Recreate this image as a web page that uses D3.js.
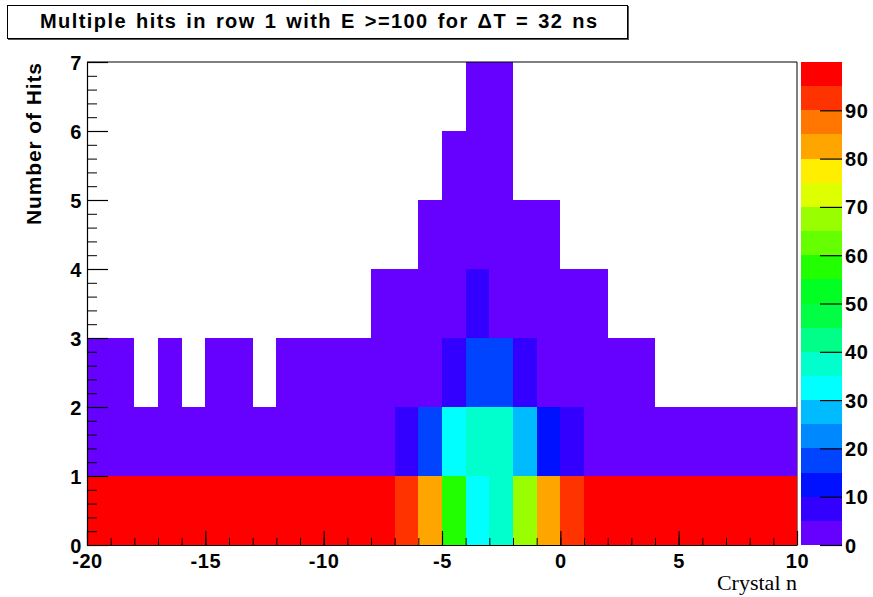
<!DOCTYPE html>
<html>
<head>
<meta charset="utf-8">
<script src="https://cdn.jsdelivr.net/npm/d3@7"></script>
<style>
  body { margin: 0; background: #fff; }
  svg text { font-family: "Liberation Sans", Arial, sans-serif; font-weight: bold; }
</style>
</head>
<body>
<div id="chart"></div>
<script>
// bin low edges along Crystal n
var crystalBins = [-20, -19, -18, -17, -16, -15, -14, -13, -12, -11, -10, -9, -8, -7, -6,
                   -5, -4, -3, -2, -1, 0, 1, 2, 3, 4, 5, 6, 7, 8, 9];
// number-of-hits bin low edges
var hitBins = [0, 1, 2, 3, 4, 5, 6];

// counts per hit row, one entry per crystal bin (0 = empty)
var hits0 = [98, 99, 97, 98, 99, 98, 97, 99, 98, 97, 99, 98, 97, 92, 82,
             57, 33, 38, 67, 82, 92, 98, 99, 97, 98, 99, 97, 98, 99, 98];
var hits1 = [2, 3, 1, 2, 3, 2, 1, 3, 2, 2, 3, 4, 3, 7, 17,
             32, 37, 38, 27, 12, 8, 3, 4, 2, 3, 2, 1, 2, 1, 2];
var hits2 = [1, 2, 0, 1, 0, 2, 1, 0, 1, 2, 1, 2, 3, 4, 4,
             7, 17, 16, 7, 4, 3, 3, 2, 1, 0, 0, 0, 0, 0, 0];
var hits3 = [0, 0, 0, 0, 0, 0, 0, 0, 0, 0, 0, 0, 1, 2, 3,
             4, 6, 4, 3, 2, 1, 1, 0, 0, 0, 0, 0, 0, 0, 0];
var hits4 = [0, 0, 0, 0, 0, 0, 0, 0, 0, 0, 0, 0, 0, 0, 1,
             2, 3, 2, 2, 1, 0, 0, 0, 0, 0, 0, 0, 0, 0, 0];
var hits5 = [0, 0, 0, 0, 0, 0, 0, 0, 0, 0, 0, 0, 0, 0, 0,
             1, 2, 1, 0, 0, 0, 0, 0, 0, 0, 0, 0, 0, 0, 0];
var hits6 = [0, 0, 0, 0, 0, 0, 0, 0, 0, 0, 0, 0, 0, 0, 0,
             0, 1, 1, 0, 0, 0, 0, 0, 0, 0, 0, 0, 0, 0, 0];

// colour contours (20 levels, 0..100)
var zLevels = [0, 5, 10, 15, 20, 25, 30, 35, 40, 45, 50, 55, 60, 65, 70, 75, 80, 85, 90, 95, 100];
var paletteColors = ["#6600ff", "#3300ff", "#0011ff", "#0044ff", "#0088ff", "#00bbff", "#00ffff",
                     "#00ffcc", "#00ff88", "#00ff44", "#00ff22", "#22ff00", "#66ff00", "#99ff00",
                     "#ddff00", "#ffee00", "#ffa500", "#ff7700", "#ff3300", "#ff0000"];

var xTicks = [-20, -15, -10, -5, 0, 5, 10];
var yTicks = [0, 1, 2, 3, 4, 5, 6, 7];
var zTicks = [0, 10, 20, 30, 40, 50, 60, 70, 80, 90];

var width = 873, height = 597;
var frameLeft = 87, frameRight = 797, frameTop = 62, frameBottom = 545;
var palLeft = 801, palRight = 842;
var plain = function(d) { return String(d); };

var svg = d3.select("#chart").append("svg")
  .attr("width", width)
  .attr("height", height);

var x = d3.scaleLinear().domain([-20, 10]).range([frameLeft, frameRight]);
var y = d3.scaleLinear().domain([0, 7]).range([frameBottom, frameTop]);
var z = d3.scaleLinear().domain([0, 100]).range([frameBottom, frameTop]);
var color = d3.scaleThreshold().domain(zLevels.slice(1, -1)).range(paletteColors);

// right frame edge sits under the cells
svg.append("line")
  .attr("x1", frameRight).attr("x2", frameRight)
  .attr("y1", frameTop).attr("y2", frameBottom)
  .attr("stroke", "#000");

var rows = [hits0, hits1, hits2, hits3, hits4, hits5, hits6];
var cells = [];
rows.forEach(function(row, j) {
  row.forEach(function(v, i) {
    if (v > 0) cells.push({cx: crystalBins[i], hy: hitBins[j], v: v});
  });
});

svg.append("g").selectAll("rect")
  .data(cells)
  .enter()
  .append("rect")
  .attr("x", function(d) { return x(d.cx); })
  .attr("y", function(d) { return y(d.hy + 1); })
  .attr("width", function(d) { return x(d.cx + 1) - x(d.cx); })
  .attr("height", function(d) { return y(d.hy) - y(d.hy + 1); })
  .attr("fill", function(d) { return color(d.v); })
  .attr("shape-rendering", "crispEdges");

// top frame edge
svg.append("line")
  .attr("x1", frameLeft).attr("x2", frameRight)
  .attr("y1", frameTop).attr("y2", frameTop)
  .attr("stroke", "#000");

// x axis: minor then major
svg.append("g")
  .attr("transform", "translate(0," + frameBottom + ")")
  .call(d3.axisBottom(x).ticks(30).tickSizeInner(-7).tickSizeOuter(0).tickFormat(""))
  .call(function(g) { g.select(".domain").remove(); });
var xAxis = svg.append("g")
  .attr("transform", "translate(0," + frameBottom + ")")
  .call(d3.axisBottom(x).tickValues(xTicks).tickFormat(plain)
    .tickSizeInner(-14).tickSizeOuter(0).tickPadding(9));

// y axis
svg.append("g")
  .attr("transform", "translate(" + frameLeft + ",0)")
  .call(d3.axisLeft(y).ticks(35).tickSizeInner(-10).tickSizeOuter(0).tickFormat(""))
  .call(function(g) { g.select(".domain").remove(); });
var yAxis = svg.append("g")
  .attr("transform", "translate(" + frameLeft + ",0)")
  .call(d3.axisLeft(y).tickValues(yTicks).tickFormat(plain)
    .tickSizeInner(-21).tickSizeOuter(0).tickPadding(5));

[xAxis, yAxis].forEach(function(g) {
  g.selectAll("path, line").attr("stroke", "#000").attr("stroke-width", 1.2);
  g.selectAll("text")
    .attr("fill", "#000")
    .style("font-size", "20px")
    .style("letter-spacing", "0.6px");
});
yAxis.selectAll("text").attr("dy", "0.35em");

// colour bar
var bands = zLevels.slice(0, -1).map(function(lv, k) {
  return {lo: lv, hi: zLevels[k + 1], c: paletteColors[k]};
});
svg.append("g").selectAll("rect")
  .data(bands)
  .enter()
  .append("rect")
  .attr("x", palLeft)
  .attr("y", function(d) { return z(d.hi); })
  .attr("width", palRight - palLeft)
  .attr("height", function(d) { return z(d.lo) - z(d.hi); })
  .attr("fill", function(d) { return d.c; })
  .attr("shape-rendering", "crispEdges");

var zAxis = svg.append("g")
  .attr("transform", "translate(" + palRight + ",0)")
  .call(d3.axisRight(z).tickValues(zTicks).tickFormat(plain)
    .tickSizeInner(-22).tickSizeOuter(0).tickPadding(3));
zAxis.select(".domain").remove();
zAxis.selectAll("line").attr("stroke", "#000").attr("stroke-width", 1.2);
zAxis.selectAll("text")
  .attr("fill", "#000")
  .attr("dy", "0.35em")
  .style("font-size", "20px")
  .style("letter-spacing", "0.6px");

// axis titles
svg.append("text")
  .attr("x", frameRight)
  .attr("y", 590)
  .attr("text-anchor", "end")
  .style("font-family", "'Liberation Serif', 'Times New Roman', serif")
  .style("font-weight", "normal")
  .style("font-size", "22px")
  .text("Crystal n");

svg.append("text")
  .attr("transform", "translate(41,63) rotate(-90)")
  .attr("text-anchor", "end")
  .attr("textLength", 162)
  .style("font-size", "21px")
  .text("Number of Hits");

// title box
svg.append("rect")
  .attr("x", 8).attr("y", 6)
  .attr("width", 621).attr("height", 34)
  .attr("fill", "#555");
svg.append("rect")
  .attr("x", 7.5).attr("y", 5.5)
  .attr("width", 620).attr("height", 33)
  .attr("fill", "#fff")
  .attr("stroke", "#000");
svg.append("text")
  .attr("x", 40)
  .attr("y", 28)
  .attr("textLength", 557)
  .style("font-size", "20px")
  .style("word-spacing", "2px")
  .text("Multiple hits in row 1 with E >=100 for \u0394T = 32 ns");
</script>
</body>
</html>
